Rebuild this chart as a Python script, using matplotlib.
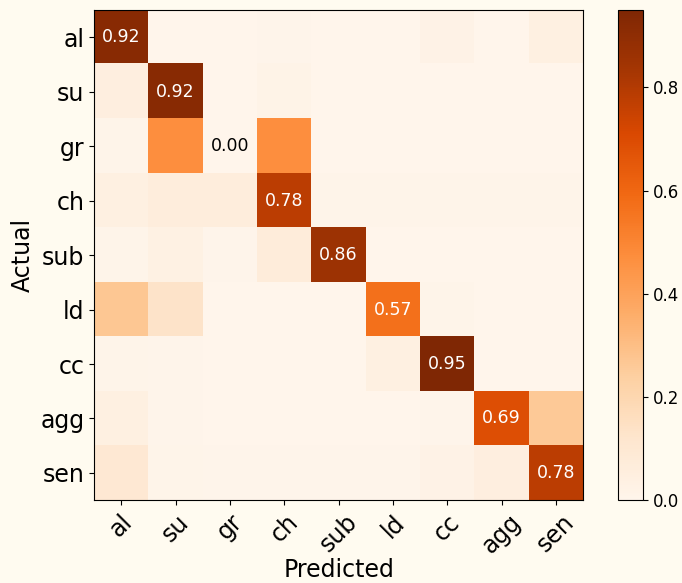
import numpy as np
import matplotlib
matplotlib.use("Agg")
import matplotlib.pyplot as plt

classes = ["al", "su", "gr", "ch", "sub", "ld", "cc", "agg", "sen"]

row_al = [0.92, 0.00, 0.00, 0.005, 0.00, 0.00, 0.02, 0.00, 0.04]
row_su = [0.05, 0.92, 0.00, 0.015, 0.00, 0.00, 0.00, 0.00, 0.00]
row_gr = [0.01, 0.47, 0.00, 0.47, 0.00, 0.00, 0.00, 0.00, 0.00]
row_ch = [0.04, 0.06, 0.06, 0.78, 0.01, 0.01, 0.01, 0.01, 0.01]
row_sub = [0.01, 0.03, 0.005, 0.07, 0.86, 0.00, 0.00, 0.00, 0.00]
row_ld = [0.27, 0.13, 0.00, 0.00, 0.00, 0.57, 0.01, 0.00, 0.00]
row_cc = [0.01, 0.005, 0.00, 0.00, 0.00, 0.04, 0.95, 0.00, 0.00]
row_agg = [0.04, 0.005, 0.00, 0.00, 0.00, 0.00, 0.005, 0.69, 0.26]
row_sen = [0.10, 0.01, 0.005, 0.005, 0.005, 0.005, 0.02, 0.05, 0.78]

cm = np.array([row_al, row_su, row_gr, row_ch, row_sub, row_ld, row_cc, row_agg, row_sen])
bg = "#fffbf0"

fig = plt.figure(figsize=(6.82, 5.83), dpi=100, facecolor=bg)
ax = fig.add_axes([0.138, 0.142, 0.717, 0.841])
cax = fig.add_axes([0.906, 0.142, 0.037, 0.841])

im = ax.imshow(cm, cmap="Oranges", vmin=0, vmax=cm.max(), aspect="auto")
cb = fig.colorbar(im, cax=cax)
cb.ax.tick_params(labelsize=12)

ax.set_xticks(np.arange(len(classes)))
ax.set_yticks(np.arange(len(classes)))
ax.set_xticklabels(classes, rotation=45, fontsize=17)
ax.set_yticklabels(classes, fontsize=17)
ax.set_xlabel("Predicted", fontsize=17, labelpad=0)
ax.set_ylabel("Actual", fontsize=17)

thresh = cm.max() / 2
for i in range(len(classes)):
    val = cm[i, i]
    ax.text(i, i, f"{val:.2f}", ha="center", va="center", fontsize=12.5,
            color="white" if val > thresh else "black")

fig.savefig("out.png", dpi=100, facecolor=bg)
